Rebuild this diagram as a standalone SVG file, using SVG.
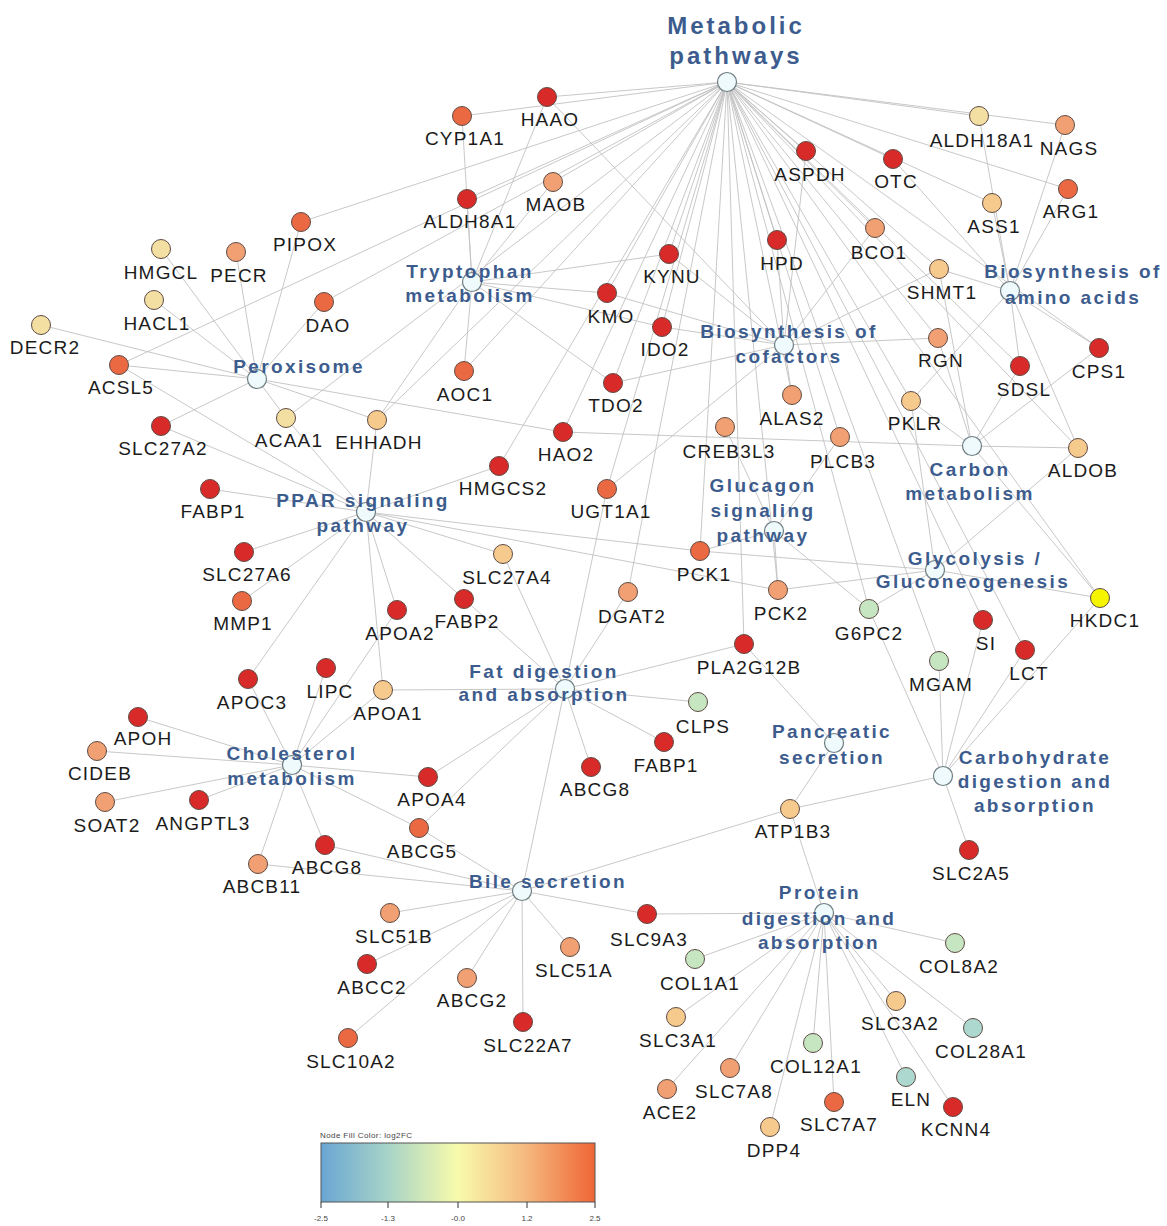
<svg xmlns="http://www.w3.org/2000/svg" width="1167" height="1226" viewBox="0 0 1167 1226">
<defs>
<style>
.e{fill:none;stroke:#c2c2c2;stroke-width:0.9}
.g circle{stroke:#5e4b44;stroke-width:1}
.g text{font-family:"Liberation Sans",Arial,sans-serif;font-size:19px;letter-spacing:1.2px;fill:#1b1b1b;text-anchor:middle}
.h circle{fill:#eefafc;stroke:#6f7d82;stroke-width:1.2}
.h text{font-family:"Liberation Sans",Arial,sans-serif;font-weight:bold;font-size:19px;letter-spacing:2.4px;fill:#3d5c8e;text-anchor:middle}
.big text{font-size:24px;letter-spacing:3px}
.r1{fill:#d92a2a}.r2{fill:#ea6943}.r3{fill:#f1a073}.r4{fill:#f6c98d}.r5{fill:#f4dfa2}.gr{fill:#c6e5c1}.tl{fill:#acd8cf}.yl{fill:#f5f500}
.lg{font-family:"Liberation Sans",Arial,sans-serif;font-size:8px;fill:#444}
</style>
<linearGradient id="grad" x1="0" y1="0" x2="1" y2="0">
<stop offset="0" stop-color="#6aa6d3"/>
<stop offset="0.24" stop-color="#a6d3c8"/>
<stop offset="0.5" stop-color="#f8fbab"/>
<stop offset="0.74" stop-color="#f5bb80"/>
<stop offset="1" stop-color="#ef6636"/>
</linearGradient>
</defs>
<rect width="1167" height="1226" fill="#ffffff"/>
<g id="connectors">
<path class="e" d="M727,82L547,97M727,82L462,116M727,82L467,199M727,82L553,182M727,82L301,222M727,82L324,302M727,82L119,365M727,82L377,420M727,82L286,418M727,82L464,371M727,82L563,432M727,82L499,466M727,82L607,293M727,82L669,254M727,82L662,327M727,82L613,383M727,82L607,489M727,82L628,592M727,82L777,240M727,82L806,151M727,82L893,159M727,82L875,228M727,82L979,116M727,82L1065,125M727,82L1068,189M727,82L992,203M727,82L939,269M727,82L938,338M727,82L1020,366M727,82L1099,348M727,82L911,401M727,82L1078,448M727,82L792,395M727,82L840,437M727,82L700,551M727,82L778,590M727,82L869,609M727,82L983,620M727,82L1025,650M727,82L939,661M727,82L1100,598M727,82L744,644"/>
<path class="e" d="M472,282L462,116M472,282L467,199M472,282L547,97M472,282L553,182M472,282L669,254M472,282L607,293M472,282L662,327M472,282L613,383M472,282L464,371M472,282L377,420"/>
<path class="e" d="M257,379L161,249M257,379L236,252M257,379L301,222M257,379L154,300M257,379L324,302M257,379L41,325M257,379L119,365M257,379L161,426M257,379L286,418M257,379L377,420M257,379L563,432"/>
<path class="e" d="M366,512L119,365M366,512L161,426M366,512L286,418M366,512L377,420M366,512L210,489M366,512L499,466M366,512L244,552M366,512L242,601M366,512L503,554M366,512L397,610M366,512L464,599M366,512L248,679M366,512L383,690M366,512L700,551M366,512L778,590"/>
<path class="e" d="M784,345L547,97M784,345L669,254M784,345L607,293M784,345L662,327M784,345L613,383M784,345L806,151M784,345L777,240M784,345L875,228M784,345L939,269M784,345L938,338M784,345L792,395M784,345L607,489"/>
<path class="e" d="M1010,291L979,116M1010,291L1065,125M1010,291L1068,189M1010,291L992,203M1010,291L893,159M1010,291L939,269M1010,291L1099,348M1010,291L911,401M1010,291L1078,448M1010,291L1020,366"/>
<path class="e" d="M972,446L939,269M972,446L911,401M972,446L1078,448M972,446L1020,366M972,446L1099,348M972,446L563,432M972,446L1100,598M972,446L938,338"/>
<path class="e" d="M774,531L725,427M774,531L840,437M774,531L700,551M774,531L778,590M774,531L869,609"/>
<path class="e" d="M935,570L700,551M935,570L778,590M935,570L869,609M935,570L911,401M935,570L1078,448M935,570L1100,598"/>
<path class="e" d="M943,776L983,620M943,776L1025,650M943,776L939,661M943,776L1100,598M943,776L869,609M943,776L790,809M943,776L969,850"/>
<path class="e" d="M834,743L744,644M834,743L790,809"/>
<path class="e" d="M565,689L464,599M565,689L503,554M565,689L628,592M565,689L744,644M565,689L698,702M565,689L664,742M565,689L591,767M565,689L383,690M565,689L428,777M565,689L419,828"/>
<path class="e" d="M292,765L248,679M292,765L326,668M292,765L383,690M292,765L397,610M292,765L138,717M292,765L97,751M292,765L105,802M292,765L199,800M292,765L325,845M292,765L258,864M292,765L428,777M292,765L419,828"/>
<path class="e" d="M522,891L419,828M522,891L325,845M522,891L258,864M522,891L390,913M522,891L367,964M522,891L348,1038M522,891L467,978M522,891L570,947M522,891L523,1022M522,891L647,914M522,891L790,809M522,891L607,489"/>
<path class="e" d="M824,913L647,914M824,913L695,959M824,913L676,1017M824,913L667,1089M824,913L730,1068M824,913L770,1127M824,913L813,1043M824,913L834,1102M824,913L906,1077M824,913L953,1107M824,913L896,1001M824,913L973,1028M824,913L955,943M824,913L790,809"/>
</g>
<g id="genes">
<g id="HAAO" class="g"><circle cx="547" cy="97" r="9.5" class="r1"/><text x="550" y="126">HAAO</text></g>
<g id="CYP1A1" class="g"><circle cx="462" cy="116" r="9.5" class="r2"/><text x="465" y="145">CYP1A1</text></g>
<g id="ALDH8A1" class="g"><circle cx="467" cy="199" r="9.5" class="r1"/><text x="470" y="228">ALDH8A1</text></g>
<g id="MAOB" class="g"><circle cx="553" cy="182" r="9.5" class="r3"/><text x="556" y="211">MAOB</text></g>
<g id="PIPOX" class="g"><circle cx="301" cy="222" r="9.5" class="r2"/><text x="305" y="251">PIPOX</text></g>
<g id="HMGCL" class="g"><circle cx="161" cy="249" r="9.5" class="r5"/><text x="161" y="279">HMGCL</text></g>
<g id="PECR" class="g"><circle cx="236" cy="252" r="9.5" class="r3"/><text x="239" y="282">PECR</text></g>
<g id="HACL1" class="g"><circle cx="154" cy="300" r="9.5" class="r5"/><text x="157" y="330">HACL1</text></g>
<g id="DAO" class="g"><circle cx="324" cy="302" r="9.5" class="r2"/><text x="328" y="332">DAO</text></g>
<g id="DECR2" class="g"><circle cx="41" cy="325" r="9.5" class="r5"/><text x="45" y="354">DECR2</text></g>
<g id="ACSL5" class="g"><circle cx="119" cy="365" r="9.5" class="r2"/><text x="121" y="394">ACSL5</text></g>
<g id="SLC27A2" class="g"><circle cx="161" cy="426" r="9.5" class="r1"/><text x="163" y="455">SLC27A2</text></g>
<g id="ACAA1" class="g"><circle cx="286" cy="418" r="9.5" class="r5"/><text x="289" y="447">ACAA1</text></g>
<g id="EHHADH" class="g"><circle cx="377" cy="420" r="9.5" class="r4"/><text x="379" y="449">EHHADH</text></g>
<g id="AOC1" class="g"><circle cx="464" cy="371" r="9.5" class="r2"/><text x="465" y="401">AOC1</text></g>
<g id="FABP1_a" class="g"><circle cx="210" cy="489" r="9.5" class="r1"/><text x="213" y="518">FABP1</text></g>
<g id="HMGCS2" class="g"><circle cx="499" cy="466" r="9.5" class="r1"/><text x="503" y="495">HMGCS2</text></g>
<g id="HAO2" class="g"><circle cx="563" cy="432" r="9.5" class="r1"/><text x="566" y="461">HAO2</text></g>
<g id="TDO2" class="g"><circle cx="613" cy="383" r="9.5" class="r1"/><text x="616" y="412">TDO2</text></g>
<g id="KMO" class="g"><circle cx="607" cy="293" r="9.5" class="r1"/><text x="611" y="323">KMO</text></g>
<g id="IDO2" class="g"><circle cx="662" cy="327" r="9.5" class="r1"/><text x="665" y="356">IDO2</text></g>
<g id="KYNU" class="g"><circle cx="669" cy="254" r="9.5" class="r1"/><text x="672" y="283">KYNU</text></g>
<g id="UGT1A1" class="g"><circle cx="607" cy="489" r="9.5" class="r2"/><text x="611" y="518">UGT1A1</text></g>
<g id="SLC27A6" class="g"><circle cx="244" cy="552" r="9.5" class="r1"/><text x="247" y="581">SLC27A6</text></g>
<g id="MMP1" class="g"><circle cx="242" cy="601" r="9.5" class="r2"/><text x="243" y="630">MMP1</text></g>
<g id="SLC27A4" class="g"><circle cx="503" cy="554" r="9.5" class="r4"/><text x="507" y="584">SLC27A4</text></g>
<g id="APOA2" class="g"><circle cx="397" cy="610" r="9.5" class="r1"/><text x="400" y="640">APOA2</text></g>
<g id="FABP2" class="g"><circle cx="464" cy="599" r="9.5" class="r1"/><text x="467" y="628">FABP2</text></g>
<g id="DGAT2" class="g"><circle cx="628" cy="592" r="9.5" class="r3"/><text x="632" y="623">DGAT2</text></g>
<g id="PCK1" class="g"><circle cx="700" cy="551" r="9.5" class="r2"/><text x="704" y="581">PCK1</text></g>
<g id="PCK2" class="g"><circle cx="778" cy="590" r="9.5" class="r3"/><text x="781" y="620">PCK2</text></g>
<g id="G6PC2" class="g"><circle cx="869" cy="609" r="9.5" class="gr"/><text x="869" y="640">G6PC2</text></g>
<g id="PLA2G12B" class="g"><circle cx="744" cy="644" r="9.5" class="r1"/><text x="749" y="674">PLA2G12B</text></g>
<g id="CREB3L3" class="g"><circle cx="725" cy="427" r="9.5" class="r3"/><text x="729" y="458">CREB3L3</text></g>
<g id="ALAS2" class="g"><circle cx="792" cy="395" r="9.5" class="r3"/><text x="792" y="425">ALAS2</text></g>
<g id="PLCB3" class="g"><circle cx="840" cy="437" r="9.5" class="r3"/><text x="843" y="468">PLCB3</text></g>
<g id="HPD" class="g"><circle cx="777" cy="240" r="9.5" class="r1"/><text x="782" y="270">HPD</text></g>
<g id="ASPDH" class="g"><circle cx="806" cy="151" r="9.5" class="r1"/><text x="810" y="181">ASPDH</text></g>
<g id="OTC" class="g"><circle cx="893" cy="159" r="9.5" class="r1"/><text x="896" y="188">OTC</text></g>
<g id="BCO1" class="g"><circle cx="875" cy="228" r="9.5" class="r3"/><text x="879" y="259">BCO1</text></g>
<g id="ALDH18A1" class="g"><circle cx="979" cy="116" r="9.5" class="r5"/><text x="982" y="147">ALDH18A1</text></g>
<g id="NAGS" class="g"><circle cx="1065" cy="125" r="9.5" class="r3"/><text x="1069" y="155">NAGS</text></g>
<g id="ARG1" class="g"><circle cx="1068" cy="189" r="9.5" class="r2"/><text x="1071" y="218">ARG1</text></g>
<g id="ASS1" class="g"><circle cx="992" cy="203" r="9.5" class="r4"/><text x="994" y="233">ASS1</text></g>
<g id="SHMT1" class="g"><circle cx="939" cy="269" r="9.5" class="r4"/><text x="942" y="299">SHMT1</text></g>
<g id="RGN" class="g"><circle cx="938" cy="338" r="9.5" class="r3"/><text x="941" y="367">RGN</text></g>
<g id="SDSL" class="g"><circle cx="1020" cy="366" r="9.5" class="r1"/><text x="1024" y="396">SDSL</text></g>
<g id="CPS1" class="g"><circle cx="1099" cy="348" r="9.5" class="r1"/><text x="1099" y="378">CPS1</text></g>
<g id="PKLR" class="g"><circle cx="911" cy="401" r="9.5" class="r4"/><text x="915" y="430">PKLR</text></g>
<g id="ALDOB" class="g"><circle cx="1078" cy="448" r="9.5" class="r4"/><text x="1083" y="477">ALDOB</text></g>
<g id="HKDC1" class="g"><circle cx="1100" cy="598" r="9.5" class="yl"/><text x="1105" y="627">HKDC1</text></g>
<g id="SI" class="g"><circle cx="983" cy="620" r="9.5" class="r1"/><text x="986" y="650">SI</text></g>
<g id="LCT" class="g"><circle cx="1025" cy="650" r="9.5" class="r1"/><text x="1029" y="680">LCT</text></g>
<g id="MGAM" class="g"><circle cx="939" cy="661" r="9.5" class="gr"/><text x="941" y="691">MGAM</text></g>
<g id="CLPS" class="g"><circle cx="698" cy="702" r="9.5" class="gr"/><text x="703" y="733">CLPS</text></g>
<g id="FABP1_b" class="g"><circle cx="664" cy="742" r="9.5" class="r1"/><text x="666" y="772">FABP1</text></g>
<g id="ABCG8_b" class="g"><circle cx="591" cy="767" r="9.5" class="r1"/><text x="595" y="796">ABCG8</text></g>
<g id="APOA1" class="g"><circle cx="383" cy="690" r="9.5" class="r4"/><text x="388" y="720">APOA1</text></g>
<g id="LIPC" class="g"><circle cx="326" cy="668" r="9.5" class="r1"/><text x="330" y="698">LIPC</text></g>
<g id="APOC3" class="g"><circle cx="248" cy="679" r="9.5" class="r1"/><text x="252" y="709">APOC3</text></g>
<g id="APOH" class="g"><circle cx="138" cy="717" r="9.5" class="r1"/><text x="143" y="745">APOH</text></g>
<g id="CIDEB" class="g"><circle cx="97" cy="751" r="9.5" class="r3"/><text x="100" y="780">CIDEB</text></g>
<g id="SOAT2" class="g"><circle cx="105" cy="802" r="9.5" class="r3"/><text x="107" y="832">SOAT2</text></g>
<g id="ANGPTL3" class="g"><circle cx="199" cy="800" r="9.5" class="r1"/><text x="203" y="830">ANGPTL3</text></g>
<g id="APOA4" class="g"><circle cx="428" cy="777" r="9.5" class="r1"/><text x="432" y="806">APOA4</text></g>
<g id="ABCG5" class="g"><circle cx="419" cy="828" r="9.5" class="r2"/><text x="422" y="858">ABCG5</text></g>
<g id="ABCG8_a" class="g"><circle cx="325" cy="845" r="9.5" class="r1"/><text x="327" y="874">ABCG8</text></g>
<g id="ABCB11" class="g"><circle cx="258" cy="864" r="9.5" class="r3"/><text x="262" y="893">ABCB11</text></g>
<g id="SLC51B" class="g"><circle cx="390" cy="913" r="9.5" class="r3"/><text x="394" y="943">SLC51B</text></g>
<g id="ABCC2" class="g"><circle cx="367" cy="964" r="9.5" class="r1"/><text x="372" y="994">ABCC2</text></g>
<g id="SLC10A2" class="g"><circle cx="348" cy="1038" r="9.5" class="r2"/><text x="351" y="1068">SLC10A2</text></g>
<g id="ABCG2" class="g"><circle cx="467" cy="978" r="9.5" class="r3"/><text x="472" y="1007">ABCG2</text></g>
<g id="SLC51A" class="g"><circle cx="570" cy="947" r="9.5" class="r3"/><text x="574" y="977">SLC51A</text></g>
<g id="SLC22A7" class="g"><circle cx="523" cy="1022" r="9.5" class="r1"/><text x="528" y="1052">SLC22A7</text></g>
<g id="SLC9A3" class="g"><circle cx="647" cy="914" r="9.5" class="r1"/><text x="649" y="946">SLC9A3</text></g>
<g id="ATP1B3" class="g"><circle cx="790" cy="809" r="9.5" class="r4"/><text x="793" y="838">ATP1B3</text></g>
<g id="SLC2A5" class="g"><circle cx="969" cy="850" r="9.5" class="r1"/><text x="971" y="880">SLC2A5</text></g>
<g id="COL1A1" class="g"><circle cx="695" cy="959" r="9.5" class="gr"/><text x="700" y="990">COL1A1</text></g>
<g id="SLC3A1" class="g"><circle cx="676" cy="1017" r="9.5" class="r4"/><text x="678" y="1047">SLC3A1</text></g>
<g id="ACE2" class="g"><circle cx="667" cy="1089" r="9.5" class="r3"/><text x="670" y="1119">ACE2</text></g>
<g id="SLC7A8" class="g"><circle cx="730" cy="1068" r="9.5" class="r3"/><text x="734" y="1098">SLC7A8</text></g>
<g id="DPP4" class="g"><circle cx="770" cy="1127" r="9.5" class="r4"/><text x="774" y="1157">DPP4</text></g>
<g id="COL12A1" class="g"><circle cx="813" cy="1043" r="9.5" class="gr"/><text x="816" y="1073">COL12A1</text></g>
<g id="SLC7A7" class="g"><circle cx="834" cy="1102" r="9.5" class="r2"/><text x="839" y="1131">SLC7A7</text></g>
<g id="ELN" class="g"><circle cx="906" cy="1077" r="9.5" class="tl"/><text x="911" y="1106">ELN</text></g>
<g id="KCNN4" class="g"><circle cx="953" cy="1107" r="9.5" class="r1"/><text x="956" y="1136">KCNN4</text></g>
<g id="SLC3A2" class="g"><circle cx="896" cy="1001" r="9.5" class="r4"/><text x="900" y="1030">SLC3A2</text></g>
<g id="COL28A1" class="g"><circle cx="973" cy="1028" r="9.5" class="tl"/><text x="981" y="1058">COL28A1</text></g>
<g id="COL8A2" class="g"><circle cx="955" cy="943" r="9.5" class="gr"/><text x="959" y="973">COL8A2</text></g>
</g>
<g id="pathways">
<g id="metabolic_pathways" class="h big"><circle cx="727" cy="82" r="9.5"/><text x="736" y="34">Metabolic</text><text x="736" y="64">pathways</text></g>
<g id="tryptophan_metabolism" class="h"><circle cx="472" cy="282" r="9.5"/><text x="470" y="278">Tryptophan</text><text x="470" y="302">metabolism</text></g>
<g id="peroxisome" class="h"><circle cx="257" cy="379" r="9.5"/><text x="299" y="373">Peroxisome</text></g>
<g id="ppar_signaling_pathway" class="h"><circle cx="366" cy="512" r="9.5"/><text x="363" y="507">PPAR signaling</text><text x="363" y="532">pathway</text></g>
<g id="biosynthesis_of_cofactors" class="h"><circle cx="784" cy="345" r="9.5"/><text x="789" y="338">Biosynthesis of</text><text x="789" y="363">cofactors</text></g>
<g id="biosynthesis_of_amino_acids" class="h"><circle cx="1010" cy="291" r="9.5"/><text x="1073" y="278">Biosynthesis of</text><text x="1073" y="304">amino acids</text></g>
<g id="carbon_metabolism" class="h"><circle cx="972" cy="446" r="9.5"/><text x="970" y="476">Carbon</text><text x="970" y="500">metabolism</text></g>
<g id="glucagon_signaling_pathway" class="h"><circle cx="774" cy="531" r="9.5"/><text x="763" y="492">Glucagon</text><text x="763" y="517">signaling</text><text x="763" y="542">pathway</text></g>
<g id="glycolysis_gluconeogenesis" class="h"><circle cx="935" cy="570" r="9.5"/><text x="975" y="565">Glycolysis /</text><text x="973" y="588">Gluconeogenesis</text></g>
<g id="fat_digestion_and_absorption" class="h"><circle cx="565" cy="689" r="9.5"/><text x="544" y="678">Fat digestion</text><text x="544" y="701">and absorption</text></g>
<g id="cholesterol_metabolism" class="h"><circle cx="292" cy="765" r="9.5"/><text x="292" y="760">Cholesterol</text><text x="292" y="785">metabolism</text></g>
<g id="pancreatic_secretion" class="h"><circle cx="834" cy="743" r="9.5"/><text x="832" y="738">Pancreatic</text><text x="832" y="764">secretion</text></g>
<g id="carbohydrate_digestion_and_absorption" class="h"><circle cx="943" cy="776" r="9.5"/><text x="1035" y="764">Carbohydrate</text><text x="1035" y="788">digestion and</text><text x="1035" y="812">absorption</text></g>
<g id="bile_secretion" class="h"><circle cx="522" cy="891" r="9.5"/><text x="548" y="888">Bile secretion</text></g>
<g id="protein_digestion_and_absorption" class="h"><circle cx="824" cy="913" r="9.5"/><text x="820" y="899">Protein</text><text x="819" y="925">digestion and</text><text x="819" y="949">absorption</text></g>
</g>
<g id="legend">
<text class="lg" x="320" y="1138" font-size="9" letter-spacing="0.4">Node Fill Color:  log2FC</text>
<rect x="321" y="1143" width="274" height="59" fill="url(#grad)" stroke="#555" stroke-width="1"/>
<path d="M321,1202V1208M388,1202V1208M458,1202V1208M527,1202V1208M595,1202V1208" stroke="#333" stroke-width="1"/>
<text class="lg" x="321" y="1221" text-anchor="middle">-2.5</text>
<text class="lg" x="388" y="1221" text-anchor="middle">-1.3</text>
<text class="lg" x="458" y="1221" text-anchor="middle">-0.0</text>
<text class="lg" x="527" y="1221" text-anchor="middle">1.2</text>
<text class="lg" x="595" y="1221" text-anchor="middle">2.5</text>
</g>
</svg>
